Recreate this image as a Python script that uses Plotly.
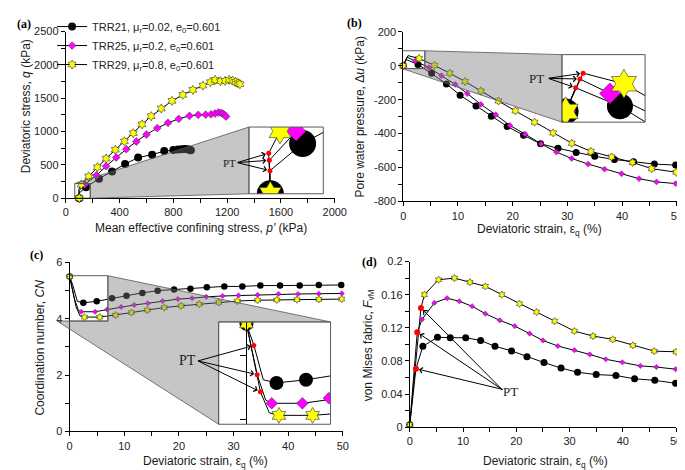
import plotly.graph_objects as go

W, H = 685, 470

# ======================= DATA =======================
names = ["TRR21, μ<sub>r</sub>=0.02, e<sub>0</sub>=0.601",
         "TRR25, μ<sub>r</sub>=0.2, e<sub>0</sub>=0.601",
         "TRR29, μ<sub>r</sub>=0.8, e<sub>0</sub>=0.601"]

# (a) stress paths: p' (kPa) and q (kPa), marker points
a_black_p = [100, 150, 247, 344, 441, 538, 642, 732, 800, 835, 862, 885, 905, 920, 930]
a_black_q = [0, 165, 292, 400, 512, 609, 653, 706, 722, 730, 735, 738, 733, 726, 720]
a_mag_p = [100, 140, 228, 300, 375, 450, 525, 600, 680, 760, 840, 920, 985, 1040, 1080, 1110, 1135, 1155, 1170, 1182, 1192]
a_mag_q = [0, 205, 341, 480, 610, 735, 850, 955, 1050, 1130, 1190, 1235, 1250, 1252, 1258, 1270, 1285, 1280, 1265, 1245, 1225]
a_yel_p = [100, 115, 170, 235, 300, 368, 436, 502, 567, 635, 710, 790, 870, 945, 1020, 1075, 1110, 1150, 1185, 1215, 1240, 1262, 1280, 1295]
a_yel_q = [0, 205, 326, 463, 595, 727, 852, 975, 1107, 1230, 1345, 1460, 1550, 1625, 1690, 1740, 1775, 1755, 1760, 1775, 1765, 1745, 1725, 1710]
a_pt_p = [99.5, 98.5, 97.5]      # phase transformation points: black, magenta, yellow
a_pt_q = [76, 110, 133]

# (b) pore water pressure (kPa) vs deviatoric strain (%)
b_black_e = [0, 2.7, 5.2, 7.9, 10.4, 13.3, 16.1, 19.0, 22.0, 25.1, 28.3, 31.6, 35.0, 38.6, 42.1, 45.9, 49.8]
b_black_u = [0, 8, -45, -107, -174, -237, -298, -358, -410, -460, -487, -512, -534, -553, -566, -580, -586]
b_mag_e = [0, 2.2, 4.7, 7.0, 9.5, 11.7, 14.2, 16.9, 19.5, 22.3, 25.2, 28.0, 30.8, 33.8, 36.8, 39.9, 43.1, 46.3, 49.8]
b_mag_u = [0, 28, -11, -59, -110, -164, -228, -289, -352, -404, -461, -509, -547, -580, -610, -637, -666, -685, -695]
b_yel_e = [0, 2.9, 5.7, 8.5, 11.3, 14.2, 17.4, 20.5, 24.0, 27.4, 30.8, 34.3, 38.1, 41.9, 45.4, 49.9]
b_yel_u = [0, 43, 2, -44, -93, -149, -208, -266, -333, -396, -457, -505, -538, -570, -607, -628]
b_pt_e = [0.50, 0.71, 0.87]
b_pt_u = [36.8, 50.4, 59.5]

# (c) coordination number vs deviatoric strain (%)
c_black_e = [0, 2.5, 4.95, 7.75, 10.4, 13.3, 16.1, 19.1, 22.1, 25.1, 28.3, 31.6, 34.9, 38.5, 42.1, 45.6, 49.7]
c_black_n = [5.5, 4.57, 4.62, 4.73, 4.82, 4.92, 5.0, 5.04, 5.07, 5.12, 5.15, 5.15, 5.18, 5.18, 5.18, 5.2, 5.2]
c_mag_e = [0, 2.1, 4.65, 6.85, 9.4, 11.8, 14.3, 17.0, 19.8, 22.4, 25.0, 28.0, 30.9, 34.4, 38.2, 41.8, 45.6, 49.8]
c_mag_n = [5.5, 4.25, 4.25, 4.33, 4.42, 4.49, 4.55, 4.63, 4.70, 4.73, 4.78, 4.81, 4.83, 4.85, 4.88, 4.88, 4.89, 4.90]
c_yel_e = [0, 2.7, 5.5, 8.4, 11.3, 14.2, 17.3, 20.4, 23.7, 27.3, 30.7, 34.4, 37.9, 41.6, 45.6, 49.8]
c_yel_n = [5.5, 4.06, 4.06, 4.13, 4.22, 4.31, 4.40, 4.46, 4.52, 4.58, 4.63, 4.66, 4.67, 4.68, 4.69, 4.70]
c_pt_e = [0.62, 0.89, 1.16]
c_pt_n = [5.16, 4.70, 4.43]
c_knee_e = [1.4, 1.6, 1.9]
c_knee_n = [4.62, 4.30, 4.10]

# (d) von Mises fabric vs deviatoric strain (%)
d_black_e = [0, 2.45, 5.2, 7.6, 10.5, 13.3, 16.0, 19.1, 22.0, 25.2, 28.4, 31.5, 35.0, 38.7, 42.2, 46.0, 49.9]
d_black_f = [0.003, 0.0976, 0.1086, 0.108, 0.108, 0.1047, 0.0976, 0.0921, 0.0851, 0.078, 0.0714, 0.0663, 0.0635, 0.0624, 0.0584, 0.0565, 0.053]
d_mag_e = [0, 2.3, 4.6, 7.0, 9.3, 11.7, 14.2, 16.9, 19.7, 22.5, 25.0, 27.8, 30.9, 33.8, 36.8, 39.9, 43.3, 46.3, 49.9]
d_mag_f = [0.003, 0.130, 0.150, 0.1557, 0.152, 0.146, 0.137, 0.129, 0.122, 0.113, 0.1047, 0.098, 0.093, 0.0878, 0.082, 0.0784, 0.074, 0.0726, 0.070]
d_yel_e = [0, 2.75, 5.4, 8.4, 11.3, 14.2, 17.3, 20.6, 23.8, 27.2, 30.9, 34.4, 38.1, 41.9, 45.9, 50.0]
d_yel_f = [0.003, 0.160, 0.178, 0.180, 0.175, 0.170, 0.160, 0.149, 0.139, 0.128, 0.116, 0.110, 0.106, 0.0988, 0.0918, 0.091]
d_pt_e = [1.16, 1.4, 2.1]
d_pt_f = [0.0706, 0.1145, 0.144]

# tick values
a_xticks = [0, 400, 800, 1200, 1600, 2000]
a_yticks = [0, 500, 1000, 1500, 2000, 2500]
e_ticks = [0, 10, 20, 30, 40, 50]
b_yticks = [-800, -600, -400, -200, 0, 200]
c_yticks = [0, 2, 4, 6]
d_yticks = [0, 0.04, 0.08, 0.12, 0.16, 0.2]

# ======================= GEOMETRY (pixels) =======================
SA = dict(xp=[56, 331], yp=[189, 18], xr=[0, 2000], yr=[0, 2500])
SB = dict(xp=[401, 680.7], yp=[192.3, 18.3], xr=[0, 50], yr=[-800, 200])
SC = dict(xp=[60, 339.3], yp=[428.3, 255], xr=[0, 50], yr=[0, 6])
SD = dict(xp=[407.7, 680], yp=[424, 254], xr=[0, 50], yr=[0, 0.2])
IA = dict(xp=[243.3, 319.3], yp=[184.5, 116], xr=[67, 182], yr=[0, 219])
IB = dict(xp=[563.3, 648.3], yp=[111, 41.7], xr=[-0.18, 3.95], yr=[-16.7, 88.3])
IC = dict(xp=[212.3, 326.7], yp=[421, 316], xr=[-2.31, 6.99], yr=[3.92, 5.53])


def to_px(s, x, y):
    X = s['xp'][0] + (x - s['xr'][0]) / (s['xr'][1] - s['xr'][0]) * (s['xp'][1] - s['xp'][0])
    Y = s['yp'][0] + (y - s['yr'][0]) / (s['yr'][1] - s['yr'][0]) * (s['yp'][1] - s['yp'][0])
    return X, Y


def pp(X, Y):
    return X / W, 1 - Y / H


FONT = "Liberation Sans, Arial, sans-serif"
SERIF = "Liberation Serif, Times New Roman, serif"
TICKFONT = dict(family=FONT, size=11, color="#222")

STY = [dict(symbol='circle', color='#000000', lc='#000000', lw=0),
       dict(symbol='diamond', color='#FF00FF', lc='#333333', lw=0.5),
       dict(symbol='hexagram', color='#FFFF00', lc='#333333', lw=0.6)]
SZ = {'a': [8, 6, 7], 'b': [7, 4.5, 6.2], 'c': [6.5, 4, 5.5], 'd': [7, 4, 5.5],
      'ia': [27, 15, 19], 'ib': [26, 16, 22], 'ic': [14, 9, 12]}


def fmt(v):
    return f"{v:g}"


def merge(xm, ym, extra):
    pts = list(zip(xm, ym)) + extra
    pts.sort(key=lambda t: t[0])
    return [p[0] for p in pts], [p[1] for p in pts]


fig = go.Figure()

# ---------- (a) main ----------
a_series = [(a_black_p, a_black_q), (a_mag_p, a_mag_q), (a_yel_p, a_yel_q)]
a_paths = []
for i, (px_, qy_) in enumerate(a_series):
    xs = [px_[0], a_pt_p[i]] + px_[1:]
    ys = [qy_[0], a_pt_q[i]] + qy_[1:]
    a_paths.append((xs, ys))
    op = [1, 0] + [1] * (len(px_) - 1)
    st = STY[i]
    fig.add_trace(go.Scatter(x=xs, y=ys, mode='lines+markers', name=names[i],
                             line=dict(color='black', width=1),
                             marker=dict(symbol=st['symbol'], size=SZ['a'][i], color=st['color'], opacity=op,
                                         line=dict(color=st['lc'], width=st['lw'])),
                             cliponaxis=False, xaxis='x', yaxis='y', showlegend=True))

# ---------- (b), (c), (d) main ----------
b_series = [(b_black_e, b_black_u), (b_mag_e, b_mag_u), (b_yel_e, b_yel_u)]
c_series = [(c_black_e, c_black_n), (c_mag_e, c_mag_n), (c_yel_e, c_yel_n)]
d_series = [(d_black_e, d_black_f), (d_mag_e, d_mag_f), (d_yel_e, d_yel_f)]

b_lines = [merge(e, u, [(b_pt_e[i], b_pt_u[i])]) for i, (e, u) in enumerate(b_series)]
c_lines = [merge(e, n, [(c_pt_e[i], c_pt_n[i]), (c_knee_e[i], c_knee_n[i])]) for i, (e, n) in enumerate(c_series)]
d_lines = [merge(e, f, [(d_pt_e[i], d_pt_f[i])]) for i, (e, f) in enumerate(d_series)]


def add_panel(series, lines, key, xa, ya):
    for i in range(3):
        fig.add_trace(go.Scatter(x=lines[i][0], y=lines[i][1], mode='lines',
                                 line=dict(color='black', width=1), showlegend=False,
                                 xaxis=xa, yaxis=ya, hoverinfo='skip'))
    for i in range(3):
        st = STY[i]
        fig.add_trace(go.Scatter(x=series[i][0], y=series[i][1], mode='markers', showlegend=False,
                                 marker=dict(symbol=st['symbol'], size=SZ[key][i], color=st['color'],
                                             line=dict(color=st['lc'], width=st['lw'])),
                                 cliponaxis=False, xaxis=xa, yaxis=ya))


add_panel(b_series, b_lines, 'b', 'x2', 'y2')
add_panel(c_series, c_lines, 'c', 'x3', 'y3')
add_panel(d_series, d_lines, 'd', 'x4', 'y4')
fig.add_trace(go.Scatter(x=d_pt_e, y=d_pt_f, mode='markers', showlegend=False,
                         marker=dict(color='#FF0000', size=6), xaxis='x4', yaxis='y4', cliponaxis=False))


# ---------- insets ----------
def add_inset(series, lines, pt_x, pt_y, key, xa, ya):
    for i in range(3):
        fig.add_trace(go.Scatter(x=lines[i][0], y=lines[i][1], mode='lines',
                                 line=dict(color='black', width=1), showlegend=False,
                                 xaxis=xa, yaxis=ya, hoverinfo='skip'))
    for i in range(3):
        st = STY[i]
        fig.add_trace(go.Scatter(x=series[i][0], y=series[i][1], mode='markers', showlegend=False,
                                 marker=dict(symbol=st['symbol'], size=SZ[key][i], color=st['color'],
                                             line=dict(color=st['lc'], width=st['lw'])),
                                 cliponaxis=True, xaxis=xa, yaxis=ya))
    fig.add_trace(go.Scatter(x=pt_x, y=pt_y, mode='markers', showlegend=False,
                             marker=dict(color='#FF0000', size=5), xaxis=xa, yaxis=ya))


add_inset(a_series, a_paths, a_pt_p, a_pt_q, 'ia', 'x5', 'y5')
add_inset(b_series, b_lines, b_pt_e, b_pt_u, 'ib', 'x6', 'y6')
add_inset(c_series, c_lines, c_pt_e, c_pt_n, 'ic', 'x7', 'y7')


# ======================= AXES =======================
def main_axis(s, which, anchor, ticks, minor):
    if which == 'x':
        dom = [s['xp'][0] / W, s['xp'][1] / W]
        rng = s['xr']
    else:
        dom = [1 - s['yp'][0] / H, 1 - s['yp'][1] / H]
        rng = s['yr']
    return dict(domain=dom, range=rng, anchor=anchor, showline=True, linecolor='black', linewidth=1,
                ticks='outside', ticklen=4, tickwidth=1, tickcolor='black', showgrid=False, zeroline=False,
                tickmode='array', tickvals=ticks, ticktext=[fmt(v) for v in ticks], tickfont=TICKFONT,
                minor=dict(tickmode='linear', tick0=0, dtick=minor, ticks='outside', ticklen=4,
                           tickwidth=1, tickcolor='black', showgrid=False))


def inset_axis(s, which, anchor):
    if which == 'x':
        dom = [s['xp'][0] / W, s['xp'][1] / W]
        rng = s['xr']
    else:
        dom = [1 - s['yp'][0] / H, 1 - s['yp'][1] / H]
        rng = s['yr']
    return dict(domain=dom, range=rng, anchor=anchor, visible=False, showgrid=False, zeroline=False)


yax7 = dict(domain=[1 - IC['yp'][0] / H, 1 - IC['yp'][1] / H], range=IC['yr'], anchor='free',
            position=to_px(IC, 0, 4)[0] / W, showline=True, linecolor='black', linewidth=1.2,
            ticks='outside', ticklen=6, tickwidth=1.2, tickcolor='black', tickmode='array',
            tickvals=[4, 5], showticklabels=False, showgrid=False, zeroline=False)

fig.update_layout(
    width=W, height=H, margin=dict(l=0, r=0, t=0, b=0),
    paper_bgcolor='white', plot_bgcolor='white',
    xaxis=main_axis(SA, 'x', 'y', a_xticks, 200), yaxis=main_axis(SA, 'y', 'x', a_yticks, 250),
    xaxis2=main_axis(SB, 'x', 'y2', e_ticks, 5), yaxis2=main_axis(SB, 'y', 'x2', b_yticks, 100),
    xaxis3=main_axis(SC, 'x', 'y3', e_ticks, 5), yaxis3=main_axis(SC, 'y', 'x3', c_yticks, 1),
    xaxis4=main_axis(SD, 'x', 'y4', e_ticks, 5), yaxis4=main_axis(SD, 'y', 'x4', d_yticks, 0.02),
    xaxis5=inset_axis(IA, 'x', 'y5'), yaxis5=inset_axis(IA, 'y', 'x5'),
    xaxis6=inset_axis(IB, 'x', 'y6'), yaxis6=inset_axis(IB, 'y', 'x6'),
    xaxis7=inset_axis(IC, 'x', 'y7'), yaxis7=yax7,
    legend=dict(x=42 / W, y=1 + 2 / H, xanchor='left', yanchor='top', bgcolor='rgba(0,0,0,0)',
                font=dict(family=FONT, size=11, color='#222'), itemwidth=30, tracegroupgap=0),
    font=dict(family=FONT),
)

# ======================= SHAPES =======================
shapes = []
GRAYF = 'rgba(120,120,120,0.42)'
EDGE = 'rgba(85,85,85,1)'


def path(pts):
    s = ''
    for k, (X, Y) in enumerate(pts):
        x, y = pp(X, Y)
        s += ('M' if k == 0 else 'L') + f'{x:.5f},{y:.5f} '
    return s + 'Z'


def inset_corners(I):
    return dict(TL=(I['xp'][0], I['yp'][1]), TR=(I['xp'][1], I['yp'][1]),
                BL=(I['xp'][0], I['yp'][0]), BR=(I['xp'][1], I['yp'][0]))


def small_corners(S, I):
    return dict(TL=to_px(S, I['xr'][0], I['yr'][1]), TR=to_px(S, I['xr'][1], I['yr'][1]),
                BL=to_px(S, I['xr'][0], I['yr'][0]), BR=to_px(S, I['xr'][1], I['yr'][0]))


ia, sa = inset_corners(IA), small_corners(SA, IA)
ib, sb = inset_corners(IB), small_corners(SB, IB)
ic, sc = inset_corners(IC), small_corners(SC, IC)

polys = [
    [sa['TL'], ia['TL'], ia['BL'], sa['BR'], sa['TR']],
    [sb['TR'], ib['TL'], ib['BL'], sb['BL'], sb['BR']],
    [sc['TR'], ic['TR'], ic['TL'], ic['BL'], sc['BL'], sc['BR']],
]
for pl in polys:
    shapes.append(dict(type='path', path=path(pl), xref='paper', yref='paper', fillcolor=GRAYF,
                       line=dict(color=EDGE, width=0.8), layer='above'))

for I, S, xa, ya in [(IA, SA, 'x', 'y'), (IB, SB, 'x2', 'y2'), (IC, SC, 'x3', 'y3')]:
    x0, y0 = pp(I['xp'][0], I['yp'][0])
    x1, y1 = pp(I['xp'][1], I['yp'][1])
    shapes.append(dict(type='rect', xref='paper', yref='paper', x0=x0, y0=y0, x1=x1, y1=y1,
                       line=dict(color='#5a5a5a', width=1), fillcolor='rgba(0,0,0,0)', layer='above'))
    shapes.append(dict(type='rect', xref=xa, yref=ya, x0=I['xr'][0], x1=I['xr'][1], y0=I['yr'][0], y1=I['yr'][1],
                       line=dict(color='#5a5a5a', width=1), fillcolor='rgba(0,0,0,0)', layer='above'))

fig.update_layout(shapes=shapes)

# ======================= ANNOTATIONS =======================
ann = []


def txt(X, Y, text, size=12, family=FONT, angle=0, xanchor='center', yanchor='middle', color='#1a1a1a'):
    x, y = pp(X, Y)
    ann.append(dict(x=x, y=y, xref='paper', yref='paper', text=text, showarrow=False, textangle=angle,
                    xanchor=xanchor, yanchor=yanchor, font=dict(family=family, size=size, color=color)))


# panel labels
txt(4, 10, '<b>(a)</b>', 12, SERIF, xanchor='left', color='black')
txt(341, 9, '<b>(b)</b>', 12, SERIF, xanchor='left', color='black')
txt(17, 247, '<b>(c)</b>', 12, SERIF, xanchor='left', color='black')
txt(357, 254, '<b>(d)</b>', 12, SERIF, xanchor='left', color='black')

# axis titles
txt(15, 95, 'Deviatoric stress, <i>q</i> (kPa)', 12, angle=-90)
txt(194, 220, "Mean effective confining stress, <i>p'</i> (kPa)", 12)
txt(357, 106, 'Pore water pressure, Δ<i>u</i> (kPa)', 12, angle=-90)
txt(540, 222, 'Deviatoric strain, ε<sub>q</sub> (%)', 12)
txt(30, 342, 'Coordination number, <i>CN</i>', 12, angle=-90)
txt(199, 460, 'Deviatoric strain, ε<sub>q</sub> (%)', 12)
txt(366, 340, 'von Mises fabric, <i>F</i><sub>vM</sub>', 12, angle=-90)
txt(546, 460, 'Deviatoric strain, ε<sub>q</sub> (%)', 12)

# PT labels and arrows
txt(223, 153, 'PT', 11, SERIF, color='#222')
txt(537, 66, 'PT', 13, SERIF, color='#222')
txt(180, 356, 'PT', 14, SERIF, color='#222')
txt(511, 387, 'PT', 13, SERIF, color='#222')


def arrows(S, xa, ya, xs, ys, tail):
    for x, y in zip(xs, ys):
        hx, hy = to_px(S, x, y)
        ann.append(dict(x=x, y=y, xref=xa, yref=ya, ax=tail[0] - hx, ay=tail[1] - hy, axref='pixel', ayref='pixel',
                        text='', showarrow=True, arrowhead=4, arrowsize=1.1, arrowwidth=1, arrowcolor='black',
                        standoff=3))


arrows(IA, 'x5', 'y5', a_pt_p, a_pt_q, (231, 152.5))
arrows(IB, 'x6', 'y6', b_pt_e, b_pt_u, (549, 66))
arrows(IC, 'x7', 'y7', c_pt_e, c_pt_n, (191, 356))
arrows(SD, 'x4', 'y4', d_pt_e, d_pt_f, (502, 385))

fig.update_layout(annotations=ann)

fig.write_html("out.html")
